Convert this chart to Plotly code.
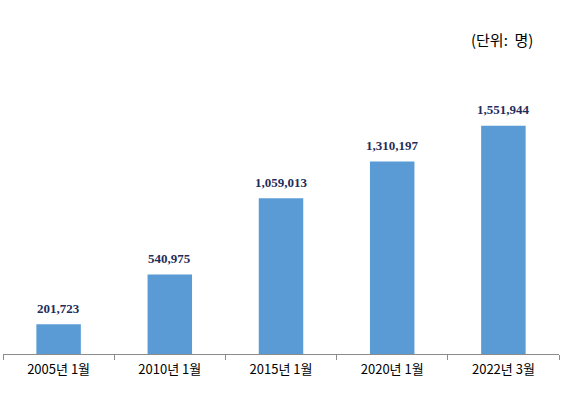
import plotly.graph_objects as go

categories = ["2005년 1월", "2010년 1월", "2015년 1월", "2020년 1월", "2022년 3월"]
values = [201723, 540975, 1059013, 1310197, 1551944]
labels = [f"{v:,}" for v in values]
unit_text = "(단위:  명)"

fig = go.Figure(go.Bar(
    x=categories, y=values,
    marker=dict(color="#5B9BD5", line=dict(width=0)),
    width=0.4,
    hoverinfo="x+y",
))

annotations = [
    dict(x=c, y=v, xref="x", yref="y", text=t, showarrow=False,
         yshift=16, yanchor="middle", xanchor="center",
         font=dict(family="Liberation Serif", size=13, color="#1F2D5A", weight="bold"),
         bgcolor="white")
    for c, v, t in zip(categories, values, labels)
]
annotations.append(dict(
    text=unit_text, xref="paper", yref="paper", x=(535-3)/556, y=1.0 + (60-40)/294,
    xanchor="right", yanchor="middle", showarrow=False,
    font=dict(family="Noto Sans CJK KR", size=15, color="black"),
))

fig.update_layout(
    width=566, height=399,
    margin=dict(l=3, r=7, t=60, b=45, autoexpand=False),
    paper_bgcolor="white", plot_bgcolor="white",
    showlegend=False,
    xaxis=dict(
        showline=True, linecolor="#8C8C8C", linewidth=1,
        ticks="outside", tickson="boundaries", ticklen=5, tickcolor="#8C8C8C",
        tickfont=dict(family="Noto Sans CJK KR", size=13, color="black"),
        ticklabelstandoff=3,
        showgrid=False, automargin=False,
    ),
    yaxis=dict(range=[0, 2000000], visible=False, showgrid=False, automargin=False),
    annotations=annotations,
)

fig.write_html("out.html", config={"displayModeBar": False},
               post_script="document.body.style.margin='0';document.body.style.overflow='hidden';")
